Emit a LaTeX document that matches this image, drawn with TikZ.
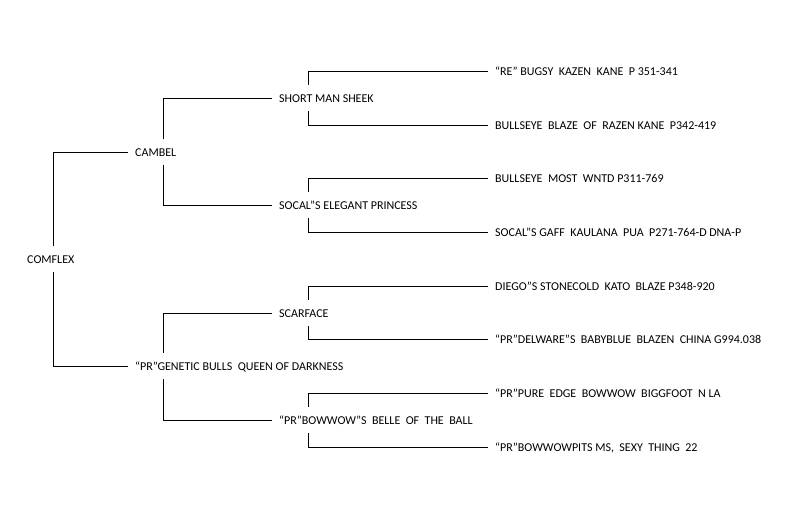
\documentclass[tikz,border=0pt]{standalone}
\usepackage{fontspec}
\setmainfont{Carlito}
\usepackage{tikz}
\usetikzlibrary{positioning}
\tikzset{
  pedname/.style = {anchor=west, inner xsep=7pt, inner ysep=0pt,
                    text height=8pt, text depth=0pt, minimum height=26pt,
                    font=\fontsize{12}{14}\selectfont},
  pedline/.style = {draw=black, line width=0.9pt}
}

\begin{document}
\begin{tikzpicture}[x=1pt, y=-1pt]
\useasboundingbox (0,0) rectangle (811,519);
% generation 1
\node[pedname] (cf) at (20,259) {COMFLEX};
% generation 2
\node[pedname] (cb) at (128,152) {CAMBEL};
\node[pedname] (qd) at (128,366) {“PR”GENETIC BULLS\ \ QUEEN OF DARKNESS};
% generation 3
\node[pedname] (sm) at (272,98)  {SHORT MAN SHEEK};
\node[pedname] (se) at (272,205) {SOCAL”S ELEGANT PRINCESS};
\node[pedname] (sf) at (272,313) {SCARFACE};
\node[pedname] (bb) at (272,420) {“PR”BOWWOW”S\ \ BELLE\ \ OF\ \ THE\ \ BALL};
% generation 4
\node[pedname] (bk) at (488,71)  {“RE” BUGSY\ \ KAZEN\ \ KANE\ \ P 351-341};
\node[pedname] (rk) at (488,125) {BULLSEYE\ \ BLAZE\ \ OF\ \ RAZEN KANE\ \ P342-419};
\node[pedname] (mw) at (488,178) {BULLSEYE\ \ MOST\ \ WNTD P311-769};
\node[pedname] (gk) at (488,232) {SOCAL”S GAFF\ \ KAULANA\ \ PUA\ \ P271-764-D DNA-P};
\node[pedname] (ds) at (488,286) {DIEGO”S STONECOLD\ \ KATO\ \ BLAZE P348-920};
\node[pedname] (dw) at (488,339) {“PR”DELWARE”S\ \ BABYBLUE\ \ BLAZEN\ \ CHINA G994.038};
\node[pedname] (pe) at (488,393) {“PR”PURE\ \ EDGE\ \ BOWWOW\ \ BIGGFOOT\ \ N LA};
\node[pedname] (st) at (488,447) {“PR”BOWWOWPITS MS,\ \ SEXY\ \ THING\ \ 22};

\draw[pedline] ([xshift=33pt]cf.north west) |- (cb.west);
\draw[pedline] ([xshift=33pt]cf.south west) |- (qd.west);
\draw[pedline] ([xshift=35pt]cb.north west) |- (sm.west);
\draw[pedline] ([xshift=35pt]cb.south west) |- (se.west);
\draw[pedline] ([xshift=35pt]qd.north west) |- (sf.west);
\draw[pedline] ([xshift=35pt]qd.south west) |- (bb.west);
\draw[pedline] ([xshift=36pt]sm.north west) |- (bk.west);
\draw[pedline] ([xshift=36pt]sm.south west) |- (rk.west);
\draw[pedline] ([xshift=36pt]se.north west) |- (mw.west);
\draw[pedline] ([xshift=36pt]se.south west) |- (gk.west);
\draw[pedline] ([xshift=36pt]sf.north west) |- (ds.west);
\draw[pedline] ([xshift=36pt]sf.south west) |- (dw.west);
\draw[pedline] ([xshift=36pt]bb.north west) |- (pe.west);
\draw[pedline] ([xshift=36pt]bb.south west) |- (st.west);
\end{tikzpicture}
\end{document}
